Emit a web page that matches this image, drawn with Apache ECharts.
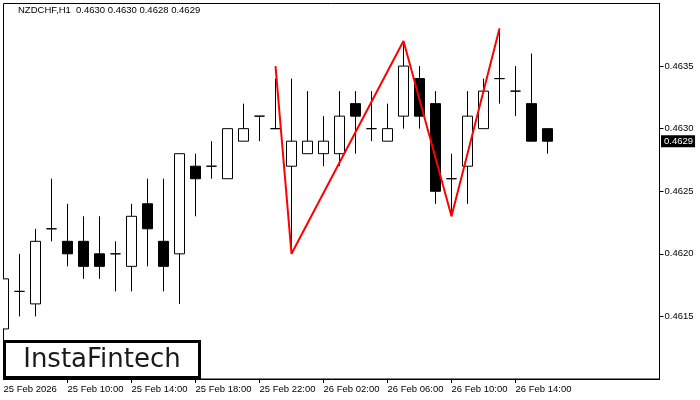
<!DOCTYPE html>
<html>
<head>
<meta charset="utf-8">
<script src="https://cdn.jsdelivr.net/npm/echarts@6/dist/echarts.min.js"></script>
<style>
  html, body { margin: 0; padding: 0; background: #fff; }
  #chart { width: 700px; height: 400px; }
</style>
</head>
<body>
<div id="chart"></div>
<script>
// hourly candles NZDCHF H1, 25 Feb 06:00 .. 26 Feb 16:00
var hours = [
  '25 Feb 06:00', '25 Feb 07:00', '25 Feb 08:00', '25 Feb 09:00', '25 Feb 10:00', '25 Feb 11:00',
  '25 Feb 12:00', '25 Feb 13:00', '25 Feb 14:00', '25 Feb 15:00', '25 Feb 16:00', '25 Feb 17:00',
  '25 Feb 18:00', '25 Feb 19:00', '25 Feb 20:00', '25 Feb 21:00', '25 Feb 22:00', '25 Feb 23:00',
  '26 Feb 00:00', '26 Feb 01:00', '26 Feb 02:00', '26 Feb 03:00', '26 Feb 04:00', '26 Feb 05:00',
  '26 Feb 06:00', '26 Feb 07:00', '26 Feb 08:00', '26 Feb 09:00', '26 Feb 10:00', '26 Feb 11:00',
  '26 Feb 12:00', '26 Feb 13:00', '26 Feb 14:00', '26 Feb 15:00', '26 Feb 16:00', '26 Feb 17:00',
  '26 Feb 18:00', '26 Feb 19:00', '26 Feb 20:00', '26 Feb 21:00', '26 Feb 22:00', '26 Feb 23:00'
]
var firstLabel = '25 Feb 2026'
var lastLabelIndex = 32

var openP = [0.4614, 0.4617, 0.4616, 0.4622, 0.4621, 0.4621, 0.4620, 0.4620, 0.4619, 0.4624, 0.4621, 0.4620,
  0.4627, 0.4627, 0.4626, 0.4629, 0.4631, 0.4630, 0.4627, 0.4628, 0.4628, 0.4628, 0.4632, 0.4630,
  0.4629, 0.4631, 0.4634, 0.4632, 0.4626, 0.4627, 0.4630, 0.4634, 0.4633, 0.4632, 0.4630]
var closeP = [0.4618, 0.4617, 0.4621, 0.4622, 0.4620, 0.4619, 0.4619, 0.4620, 0.4623, 0.4622, 0.4619, 0.4628,
  0.4626, 0.4627, 0.4630, 0.4630, 0.4631, 0.4630, 0.4629, 0.4629, 0.4629, 0.4631, 0.4631, 0.4630,
  0.4630, 0.4635, 0.4631, 0.4625, 0.4626, 0.4631, 0.4633, 0.4634, 0.4633, 0.4629, 0.4629]
var lowP = [0.4614, 0.4615, 0.4615, 0.4621, 0.4619, 0.4618, 0.4618, 0.4617, 0.4617, 0.4619, 0.4617, 0.4616,
  0.4623, 0.4626, 0.4626, 0.4629, 0.4629, 0.4630, 0.4620, 0.4628, 0.4627, 0.4627, 0.4628, 0.4629,
  0.4629, 0.4630, 0.4630, 0.4624, 0.4623, 0.4624, 0.4630, 0.4632, 0.4631, 0.4629, 0.4628]
var highP = [0.4618, 0.4620, 0.4622, 0.4626, 0.4624, 0.4623, 0.4623, 0.4621, 0.4624, 0.4626, 0.4626, 0.4628,
  0.4628, 0.4629, 0.4630, 0.4632, 0.4631, 0.4634, 0.4634, 0.4633, 0.4631, 0.4633, 0.4633, 0.4633,
  0.4632, 0.4637, 0.4635, 0.4633, 0.4628, 0.4633, 0.4634, 0.4638, 0.4635, 0.4636, 0.4630]

// triple top pattern vertices (candle index -> price)
var patternIdx = [17, 18, 25, 28, 31]
var patternVal = [0.4635, 0.4620, 0.4637, 0.4623, 0.4638]

var priceLevel = 0.4629
var yTicksMin = 0.4610
var yTicksMax = 0.4640
var yStep = 0.0005

var fontName = 'Liberation Sans'

let candles = []
for (let i = 0; i < hours.length; i++) {
  if (i < openP.length) {
    candles.push([openP[i], closeP[i], lowP[i], highP[i]])
  } else {
    candles.push('-')
  }
}
let redLine = hours.map(function () { return null })
for (let k = 0; k < patternIdx.length; k++) {
  redLine[patternIdx[k]] = patternVal[k]
}

let myChart = echarts.init(document.getElementById('chart'))
myChart.setOption({
  animation: false,
  backgroundColor: '#fff',
  title: {
    text: 'NZDCHF,H1  0.4630 0.4630 0.4628 0.4629',
    left: 18,
    top: 5,
    padding: 0,
    textStyle: {
      fontFamily: fontName,
      fontSize: 9.5,
      fontWeight: 'normal',
      color: '#000'
    }
  },
  grid: {
    left: 3.5,
    right: 40.5,
    top: 3.5,
    bottom: 21,
    show: true,
    borderColor: '#000',
    borderWidth: 1,
    backgroundColor: 'transparent'
  },
  xAxis: {
    type: 'category',
    data: hours,
    boundaryGap: false,
    axisLine: { show: true, lineStyle: { color: '#000', width: 1 } },
    axisTick: {
      show: true,
      length: 4,
      interval: function (i) { return i % 4 === 0 && i > 0 && i <= lastLabelIndex },
      lineStyle: { color: '#000' }
    },
    axisLabel: {
      interval: function (i) { return i % 4 === 0 && i <= lastLabelIndex },
      align: 'left',
      margin: 5,
      color: '#000',
      fontFamily: fontName,
      fontSize: 9.5,
      formatter: function (value, index) {
        return index === 0 ? firstLabel : value
      }
    },
    splitLine: { show: false }
  },
  yAxis: {
    type: 'value',
    position: 'right',
    scale: true,
    min: yTicksMin,
    max: yTicksMax,
    interval: yStep,
    axisLine: { show: true, lineStyle: { color: '#000', width: 1 } },
    axisTick: { show: true, length: 4, lineStyle: { color: '#000' } },
    axisLabel: {
      margin: 5,
      color: '#000',
      fontFamily: fontName,
      fontSize: 9.5,
      showMinLabel: false,
      showMaxLabel: false,
      formatter: function (v) { return v.toFixed(4) }
    },
    splitLine: { show: false }
  },
  series: [
    {
      type: 'candlestick',
      data: candles,
      barWidth: 10,
      clip: true,
      itemStyle: {
        color: '#fff',
        color0: '#000',
        borderColor: '#000',
        borderColor0: '#000',
        borderColorDoji: '#000',
        borderWidth: 1
      },
      markLine: {
        silent: true,
        symbol: 'none',
        lineStyle: { color: '#000', width: 1, type: 'solid' },
        label: { show: false },
        data: [{ yAxis: priceLevel }]
      }
    },
    {
      type: 'line',
      data: redLine,
      connectNulls: true,
      symbol: 'none',
      z: 5,
      lineStyle: { color: '#ff0000', width: 2 }
    }
  ]
})

// logo, left-edge mask for the cut first candle and current price tag
let tagY = myChart.convertToPixel({ yAxisIndex: 0 }, priceLevel)
myChart.setOption({
  graphic: [
    {
      type: 'rect',
      z: 50,
      shape: { x: 0, y: 0, width: 3, height: 380 },
      style: { fill: '#fff' }
    },
    {
      type: 'rect',
      z: 100,
      shape: { x: 4.5, y: 341.5, width: 195, height: 36 },
      style: { fill: '#fff', stroke: '#000', lineWidth: 3 }
    },
    {
      type: 'text',
      z: 101,
      x: 102,
      y: 360,
      style: {
        text: 'InstaFintech',
        font: '26px "DejaVu Sans"',
        fill: '#1a1a1a',
        textAlign: 'center',
        textVerticalAlign: 'middle'
      }
    },
    {
      type: 'text',
      z: 101,
      x: 661,
      y: tagY,
      style: {
        text: priceLevel.toFixed(4),
        font: '9.5px "' + fontName + '"',
        fill: '#fff',
        backgroundColor: '#000',
        padding: [1, 2, 1, 3],
        textAlign: 'left',
        textVerticalAlign: 'middle'
      }
    }
  ]
})
window.addEventListener('resize', function () {
  myChart.resize()
})
</script>
</body>
</html>
